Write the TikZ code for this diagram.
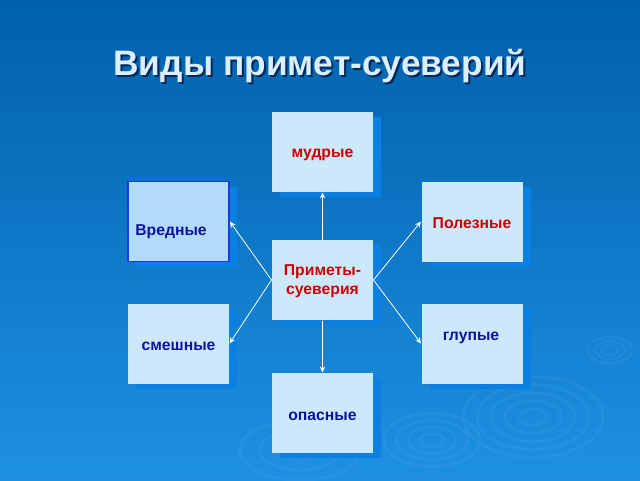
\documentclass[tikz,border=0pt]{standalone}
\usepackage{fontspec}
\setmainfont{Liberation Sans}
\usetikzlibrary{arrows.meta,shadows}

\definecolor{bgtop}{RGB}{0,96,172}
\definecolor{bgbot}{RGB}{30,144,226}
\definecolor{boxfill}{RGB}{204,233,252}
\definecolor{vredfill}{RGB}{178,218,250}
\definecolor{vredline}{RGB}{24,60,224}
\definecolor{shadowblue}{RGB}{10,128,226}
\definecolor{txtred}{RGB}{204,0,0}
\definecolor{txtblue}{RGB}{10,20,160}
\definecolor{titlefill}{RGB}{218,238,252}
\definecolor{titleshade}{RGB}{0,40,90}

\tikzset{every picture/.style={line width=0.75pt}}
\tikzset{
  box/.style={rectangle, fill=boxfill, minimum width=75.75pt, minimum height=60pt, inner sep=0pt,
    drop shadow={shadow xshift=6pt, shadow yshift=-3.75pt, fill=shadowblue, opacity=1}},
  boxtext/.style={font=\fontsize{11.8}{14}\selectfont\bfseries, inner sep=0.75pt},
  titletext/.style={font=\fontsize{26.5}{30}\selectfont\bfseries, inner sep=0pt, anchor=base},
  link/.style={draw=white, line width=0.6pt, -{Stealth[length=4.5pt,width=4pt]}},
  ripple/.style={draw=white, opacity=0.045, line width=2pt}
}

\begin{document}
\begin{tikzpicture}[x=0.75pt,y=0.75pt,yscale=-1,xscale=1]
\useasboundingbox (0,0) rectangle (640,480);

%Background
\shade [top color=bgtop, bottom color=bgbot] (0,0) rectangle (640,480);
%Ripples
\foreach \r in {14,28,42,56,70} {
  \draw [ripple] (533,417) ellipse ({\r} and {\r*0.58});
}
\foreach \r in {8,15,22} {
  \draw [ripple] (610,350) ellipse ({\r} and {\r*0.6});
}
\foreach \r in {12,24,36,48} {
  \draw [ripple] (432,440) ellipse ({\r} and {\r*0.55});
}
\foreach \r in {20,40,60} {
  \draw [ripple] (300,450) ellipse ({\r} and {\r*0.5});
}

% Title
\node [titletext, text=titleshade] (titleshd) at (322,77) {Виды примет-суеверий};
\node [titletext, text=titlefill] (title) at (320,75) {Виды примет-суеверий};

%Shape: Rectangle
\node [box] (mudr) at (322.5,152) {};
\node [box] (polez) at (472,221.5) {};
\node [box, fill=vredfill, draw=vredline, line width=1.2pt] (vred) at (178.5,221.5) {};
\node [box] (prim) at (322.5,280) {};
\node [box] (smesh) at (178.5,343.5) {};
\node [box] (glup) at (472,343.5) {};
\node [box] (opas) at (322.5,413) {};

%Straight Lines
\draw [link] (prim.north) -- (mudr.south);
\draw [link] (prim.south) -- (opas.north);
\draw [link] (prim.west) -- (vred.east);
\draw [link] (prim.west) -- (smesh.east);
\draw [link] (prim.east) -- (polez.west);
\draw [link] (prim.east) -- (glup.west);

% Text Node
\node [boxtext, text=txtred, anchor=base] (tmudr) at (322.5,157) {мудрые};
% Text Node
\node [boxtext, text=txtred, anchor=base] (tpolez) at (472,228) {Полезные};
% Text Node
\node [boxtext, text=txtblue, anchor=base] (tvred) at (171,235) {Вредные};
% Text Node
\node [boxtext, text=txtred, align=center] (tprim) at (322.5,281) {Приметы-\\суеверия};
% Text Node
\node [boxtext, text=txtblue, anchor=base] (tsmesh) at (178.5,350) {смешные};
% Text Node
\node [boxtext, text=txtblue, anchor=base] (tglup) at (471,340) {глупые};
% Text Node
\node [boxtext, text=txtblue, anchor=base] (topas) at (322.5,420) {опасные};

\end{tikzpicture}
\end{document}
